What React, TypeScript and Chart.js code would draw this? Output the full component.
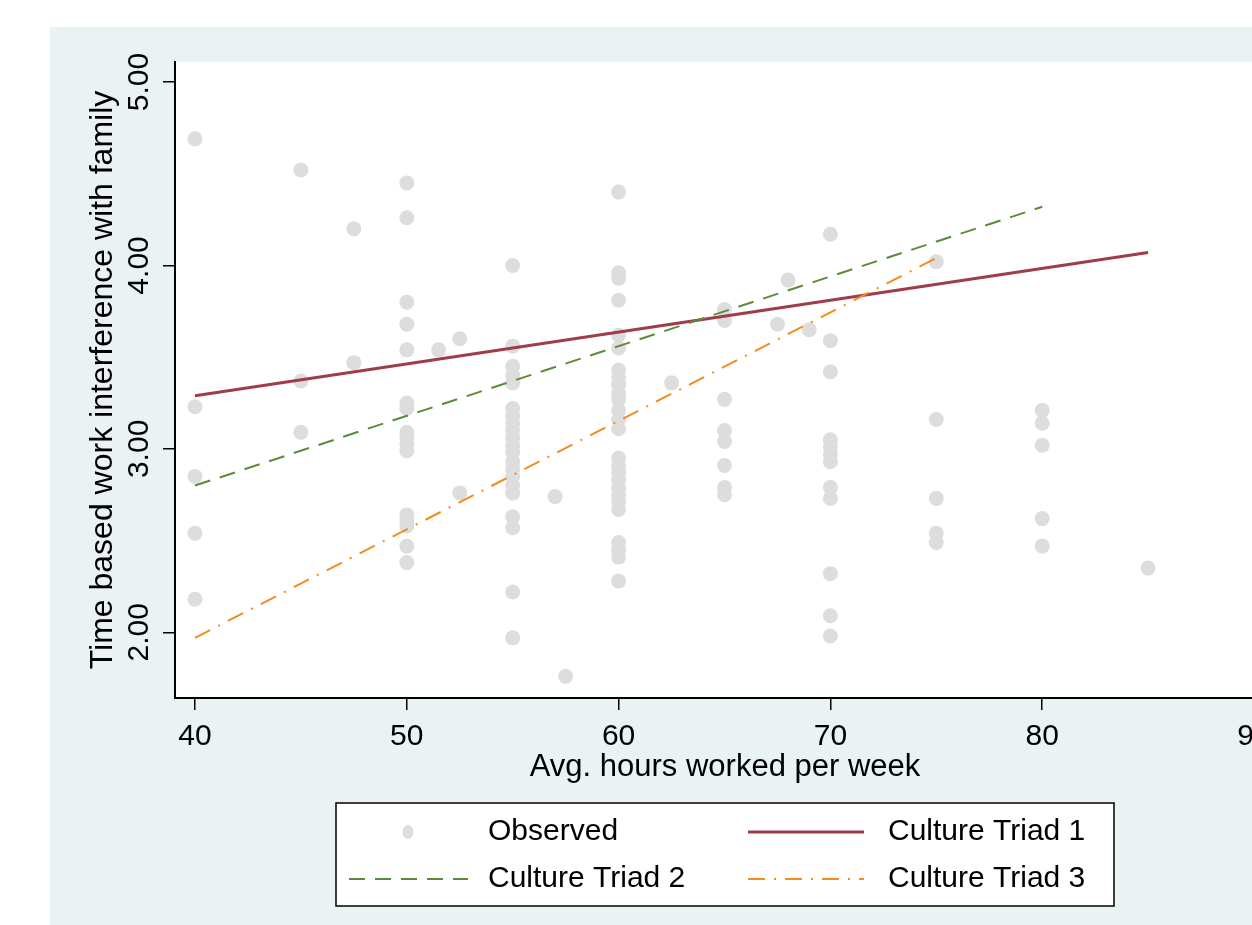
import React, { useEffect, useRef } from "react";
import { Chart, registerables } from "chart.js";

Chart.register(...registerables);

// ---------- data ----------
const obsHours = [
  40, 40, 40, 40, 40,
  45, 45, 45,
  47.5, 47.5,
  50, 50, 50, 50, 50, 50, 50, 50, 50, 50, 50, 50, 50, 50, 50, 50,
  51.5,
  52.5, 52.5,
  55, 55, 55, 55, 55, 55, 55, 55, 55, 55, 55, 55, 55, 55, 55, 55, 55, 55, 55, 55, 55,
  57, 57.5,
  60, 60, 60, 60, 60, 60, 60, 60, 60, 60, 60, 60, 60, 60, 60, 60, 60, 60, 60, 60, 60, 60, 60, 60, 60, 60,
  62.5,
  65, 65, 65, 65, 65, 65, 65, 65,
  67.5, 68, 69,
  70, 70, 70, 70, 70, 70, 70, 70, 70, 70, 70, 70,
  75, 75, 75, 75, 75,
  80, 80, 80, 80, 80,
  85,
];
const obsScores = [
  4.69, 3.23, 2.85, 2.54, 2.18,
  4.52, 3.37, 3.09,
  4.2, 3.47,
  4.45, 4.26, 3.8, 3.68, 3.54, 3.25, 3.22, 3.09, 3.06, 3.03, 2.99, 2.64, 2.61, 2.58, 2.47, 2.38,
  3.54,
  3.6, 2.76,
  4.0, 3.56, 3.45, 3.4, 3.36, 3.22, 3.18, 3.14, 3.1, 3.06, 3.02, 2.98, 2.93, 2.89, 2.85, 2.8, 2.76, 2.63, 2.57, 2.22, 1.97,
  2.74, 1.76,
  4.4, 3.96, 3.93, 3.81, 3.62, 3.55, 3.43, 3.39, 3.35, 3.3, 3.27, 3.21, 3.16, 3.11, 2.95, 2.91, 2.87, 2.83, 2.79, 2.75, 2.71, 2.67, 2.49, 2.45, 2.41, 2.28,
  3.36,
  3.76, 3.7, 3.27, 3.1, 3.04, 2.91, 2.79, 2.75,
  3.68, 3.92, 3.65,
  4.17, 3.59, 3.42, 3.05, 3.01, 2.97, 2.93, 2.79, 2.73, 2.32, 2.09, 1.98,
  4.02, 3.16, 2.73, 2.54, 2.49,
  3.21, 3.14, 3.02, 2.62, 2.47,
  2.35,
];

const triad1Hours = [40, 85];
const triad1Scores = [3.29, 4.07];
const triad2Hours = [40, 80];
const triad2Scores = [2.8, 4.32];
const triad3Hours = [40, 75];
const triad3Scores = [1.97, 4.04];

const xTickValues = [40, 50, 60, 70, 80, 90];
const xTickLabels = ["40", "50", "60", "70", "80", "90"];
const yTickValues = [2, 3, 4, 5];
const yTickLabels = ["2.00", "3.00", "4.00", "5.00"];

const xTitle = "Avg. hours worked per week";
const yTitle = "Time based work interference with family";
const legendLabels = ["Observed", "Culture Triad 1", "Culture Triad 2", "Culture Triad 3"];

// ---------- styling ----------
const FONT = "'Liberation Sans', Arial, sans-serif";
const FONT_SIZE = 30;
const CANVAS_W = 1350;
const CANVAS_H = 898;

const decorPlugin = {
  id: "stataDecor",
  beforeDraw(chart: any) {
    const { ctx, chartArea: a } = chart;
    ctx.save();
    ctx.fillStyle = "#ffffff";
    ctx.fillRect(a.left, a.top, a.right - a.left, a.bottom - a.top);
    ctx.restore();
  },
  afterDraw(chart: any) {
    const { ctx, chartArea: a } = chart;
    const xs = chart.scales.x;
    const ys = chart.scales.y;
    ctx.save();
    ctx.fillStyle = "#000";
    ctx.font = `${FONT_SIZE}px ${FONT}`;

    // x tick labels
    ctx.textAlign = "center";
    ctx.textBaseline = "alphabetic";
    xs.ticks.forEach((t: any, i: number) => {
      ctx.fillText(xTickLabels[i], xs.getPixelForValue(t.value), a.bottom + 47);
    });
    // x title
    ctx.font = `31px ${FONT}`;
    ctx.fillText(xTitle, CANVAS_W / 2, a.bottom + 78);

    // y tick labels (rotated)
    ctx.font = `${FONT_SIZE}px ${FONT}`;
    ys.ticks.forEach((t: any, i: number) => {
      const y = ys.getPixelForValue(t.value);
      ctx.save();
      ctx.translate(a.left - 27, y);
      ctx.rotate(-Math.PI / 2);
      ctx.fillText(yTickLabels[i], 0, 0);
      ctx.restore();
    });
    // y title
    ctx.save();
    ctx.font = `32px ${FONT}`;
    ctx.translate(a.left - 63, (a.top + a.bottom) / 2);
    ctx.rotate(-Math.PI / 2);
    ctx.fillText(yTitle, 0, 0);
    ctx.restore();

    // legend box
    ctx.font = `${FONT_SIZE}px ${FONT}`;
    const bx = 286, by = 776, bw = 778, bh = 103;
    ctx.fillStyle = "#fff";
    ctx.fillRect(bx, by, bw, bh);
    ctx.strokeStyle = "#000";
    ctx.lineWidth = 1.5;
    ctx.strokeRect(bx, by, bw, bh);

    const ds = chart.data.datasets;
    const row1 = by + 29;
    const row2 = by + 76;
    // Observed marker
    ctx.fillStyle = ds[0].pointBackgroundColor;
    ctx.beginPath();
    ctx.ellipse(358, row1, 5.5, 7, 0, 0, Math.PI * 2);
    ctx.fill();
    const drawLine = (d: any, x1: number, x2: number, y: number) => {
      ctx.save();
      ctx.strokeStyle = d.borderColor;
      ctx.lineWidth = d.borderWidth;
      ctx.setLineDash(d.borderDash || []);
      ctx.beginPath();
      ctx.moveTo(x1, y);
      ctx.lineTo(x2, y);
      ctx.stroke();
      ctx.restore();
    };
    drawLine(ds[1], 698, 814, row1);
    drawLine(ds[2], 299, 418, row2);
    drawLine(ds[3], 698, 814, row2);

    ctx.fillStyle = "#000";
    ctx.textAlign = "left";
    ctx.textBaseline = "middle";
    ctx.fillText(legendLabels[0], 438, row1);
    ctx.fillText(legendLabels[1], 838, row1);
    ctx.fillText(legendLabels[2], 438, row2);
    ctx.fillText(legendLabels[3], 838, row2);
    ctx.restore();
  },
};

const toPoints = (xs: number[], ys: number[]) => xs.map((x, i) => ({ x, y: ys[i] }));

export default function App() {
  const ref = useRef<HTMLCanvasElement | null>(null);

  useEffect(() => {
    if (!ref.current) return;
    const chart = new Chart(ref.current, {
      type: "scatter",
      data: {
        datasets: [
          {
            label: legendLabels[0],
            data: toPoints(obsHours, obsScores),
            pointRadius: 7.5,
            pointBackgroundColor: "#dddddd",
            pointBorderColor: "#dddddd",
            pointBorderWidth: 0,
            showLine: false,
            order: 4,
          } as any,
          {
            label: legendLabels[1],
            data: toPoints(triad1Hours, triad1Scores),
            showLine: true,
            pointRadius: 0,
            borderColor: "#9e3d49",
            borderWidth: 3,
            order: 3,
          },
          {
            label: legendLabels[2],
            data: toPoints(triad2Hours, triad2Scores),
            showLine: true,
            pointRadius: 0,
            borderColor: "#5c8a3a",
            borderWidth: 2,
            borderDash: [16, 10],
            order: 2,
          },
          {
            label: legendLabels[3],
            data: toPoints(triad3Hours, triad3Scores),
            showLine: true,
            pointRadius: 0,
            borderColor: "#f28c1c",
            borderWidth: 2,
            borderDash: [17, 9, 2, 9],
            order: 1,
          },
        ],
      },
      options: {
        animation: false,
        responsive: false,
        devicePixelRatio: 1,
        events: [],
        layout: { padding: { top: 35, right: 126, left: 0, bottom: 0 } },
        plugins: { legend: { display: false }, tooltip: { enabled: false } },
        scales: {
          x: {
            type: "linear",
            min: 39.055,
            max: 90.945,
            afterBuildTicks: (s: any) => {
              s.ticks = xTickValues.map((v) => ({ value: v }));
            },
            afterFit: (s: any) => {
              s.height = 227;
            },
            ticks: { display: false },
            grid: { drawOnChartArea: false, drawTicks: true, tickLength: 12, color: "#000", lineWidth: 1.5 },
            border: { display: true, color: "#000", width: 2 },
          },
          y: {
            type: "linear",
            min: 1.642,
            max: 5.109,
            afterBuildTicks: (s: any) => {
              s.ticks = yTickValues.map((v) => ({ value: v }));
            },
            afterFit: (s: any) => {
              s.width = 125;
            },
            ticks: { display: false },
            grid: { drawOnChartArea: false, drawTicks: true, tickLength: 12, color: "#000", lineWidth: 1.5 },
            border: { display: true, color: "#000", width: 2 },
          },
        },
      },
      plugins: [decorPlugin],
    });
    return () => chart.destroy();
  }, []);

  return (
    <div
      style={{
        position: "absolute",
        left: 50,
        top: 27,
        width: 1202,
        height: 898,
        overflow: "hidden",
        background: "#eaf2f3",
      }}
    >
      <canvas
        ref={ref}
        width={CANVAS_W}
        height={CANVAS_H}
        style={{ display: "block", width: CANVAS_W, height: CANVAS_H }}
      />
    </div>
  );
}
